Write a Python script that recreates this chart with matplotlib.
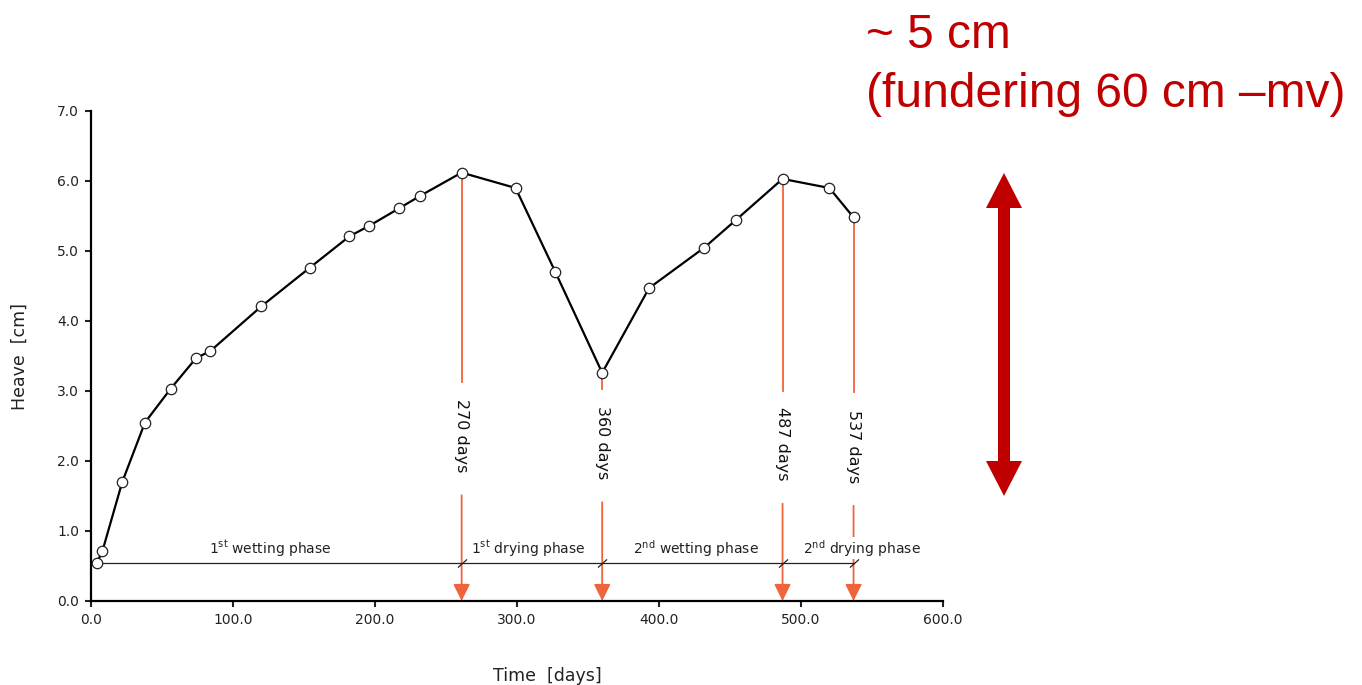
import matplotlib
matplotlib.use("Agg")
import matplotlib.pyplot as plt
from matplotlib.patches import Polygon

# ---------------- data ----------------
time_days = [4, 8, 22, 38, 56, 74, 84, 120, 154, 182, 196, 217, 232, 261,
             299, 327, 360, 393, 432, 454, 487, 520, 537]
heave_cm = [0.54, 0.71, 1.70, 2.55, 3.03, 3.47, 3.57, 4.21, 4.76, 5.21, 5.36,
            5.61, 5.79, 6.12, 5.90, 4.70, 3.26, 4.47, 5.05, 5.44, 6.03, 5.90, 5.48]

event_days = [261, 360, 487, 537]
event_labels = ["270 days", "360 days", "487 days", "537 days"]
event_label_y = [2.36, 2.26, 2.24, 2.21]
event_break_top = [3.13, 3.03, 3.00, 2.99]
event_break_bottom = [1.51, 1.41, 1.39, 1.36]

phase_level = 0.54
phase_labels = ["1$^{st}$ wetting phase", "1$^{st}$ drying phase",
                "2$^{nd}$ wetting phase", "2$^{nd}$ drying phase"]
phase_label_x = [126, 308, 426, 543]
phase_label_y = 0.68

x_ticks = [0, 100, 200, 300, 400, 500, 600]
y_ticks = [0, 1, 2, 3, 4, 5, 6, 7]

RED_LINE = "#f0643c"
DARK_RED = "#c00000"

plt.rcParams["font.family"] = ["DejaVu Sans"]
plt.rcParams["mathtext.default"] = "regular"

W, H = 1362, 685
fig = plt.figure(figsize=(W / 100, H / 100), dpi=100)
ax = fig.add_axes([91 / W, 1 - 601 / H, (943 - 91) / W, (601 - 111) / H])

# event lines (red) with arrows to the axis
for d, lab, ly, bt, bb in zip(event_days, event_labels, event_label_y,
                              event_break_top, event_break_bottom):
    top = heave_cm[time_days.index(d)]
    ax.plot([d, d], [top, bt], color=RED_LINE, lw=1.3, zorder=1)
    ax.annotate("", xy=(d, 0), xytext=(d, bb),
                arrowprops=dict(arrowstyle="-|>,head_length=0.85,head_width=0.42",
                                mutation_scale=12, color=RED_LINE, lw=1.3,
                                shrinkA=0, shrinkB=0),
                zorder=1)
    ax.text(d, ly, lab, rotation=-90, ha="center", va="center",
            fontsize=11.5, color="#111111")

# phase line with boundary slashes
ax.plot([time_days[0], event_days[-1]], [phase_level, phase_level],
        color="#222222", lw=0.9, zorder=2)
ax.plot(event_days, [phase_level] * len(event_days), ls="none",
        marker=[(-1, -0.9), (1, 0.9)], ms=6.5, mec="#222222", mew=0.9, zorder=3)
for px, pl in zip(phase_label_x, phase_labels):
    ax.text(px, phase_label_y, pl, ha="center", va="baseline", fontsize=10,
            color="#222222",
            bbox=dict(boxstyle="square,pad=0.05", fc="white", ec="none"),
            zorder=2.5)

# main series
ax.plot(time_days, heave_cm, color="black", lw=1.6, marker="o", ms=7.5,
        mfc="white", mec="#222222", mew=0.9, zorder=4, clip_on=False)

ax.set_xlim(0, 600)
ax.set_ylim(0, 7)
ax.set_xticks(x_ticks)
ax.set_yticks(y_ticks)
ax.set_xticklabels([f"{v:.1f}" for v in x_ticks])
ax.set_yticklabels([f"{v:.1f}" for v in y_ticks])
for s in ["top", "right"]:
    ax.spines[s].set_visible(False)
for s in ["left", "bottom"]:
    ax.spines[s].set_linewidth(1.6)
ax.tick_params(direction="out", length=4, width=1.5, labelsize=10,
               colors="#222222", pad=4.5)

ax.set_xlabel("Time  [days]", fontsize=12.5, color="#222222")
ax.set_ylabel("Heave  [cm]", fontsize=12.5, color="#222222")
ax.xaxis.set_label_coords((547 - 91) / 852, (601 - 667) / 490)
ax.yaxis.set_label_coords((29 - 91) / 852, (601 - 357) / 490)

# red annotation text
fig.text(866 / W, 1 - 48 / H, "~ 5 cm", fontsize=34.5, color=DARK_RED,
         family=["Liberation Sans", "DejaVu Sans"], va="baseline", ha="left")
fig.text(866 / W, 1 - 107 / H, "(fundering 60 cm \u2013mv)", fontsize=34.5,
         color=DARK_RED, family=["Liberation Sans", "DejaVu Sans"],
         va="baseline", ha="left")

# big double arrow
cx = 1004
sw, hw = 6, 18
yt, yb, hl = 173, 496, 35
pts_px = [(cx, yt), (cx + hw, yt + hl), (cx + sw, yt + hl), (cx + sw, yb - hl),
          (cx + hw, yb - hl), (cx, yb), (cx - hw, yb - hl), (cx - sw, yb - hl),
          (cx - sw, yt + hl), (cx - hw, yt + hl)]
pts = [(x / W, 1 - y / H) for x, y in pts_px]
fig.patches.append(Polygon(pts, closed=True, transform=fig.transFigure,
                           fc=DARK_RED, ec="none"))

fig.savefig("out.png", dpi=100)
